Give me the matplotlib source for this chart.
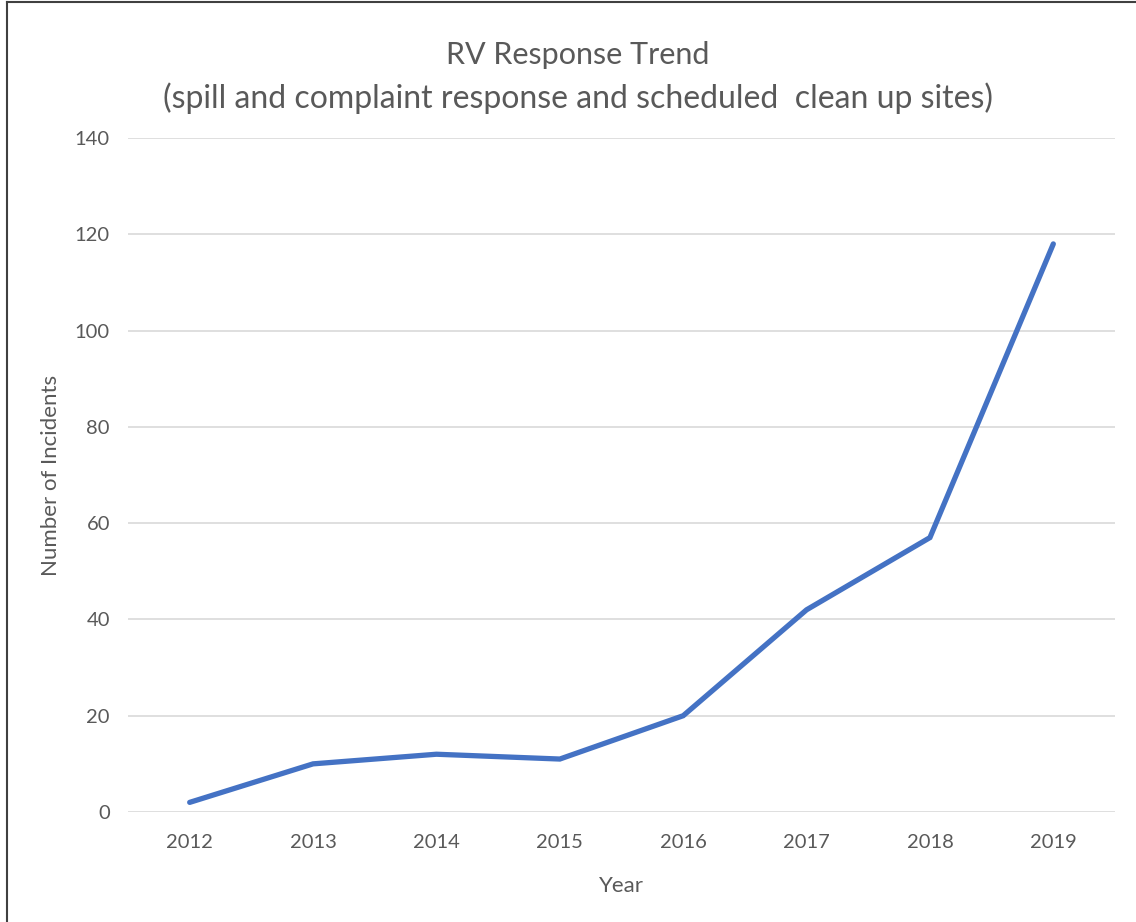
import matplotlib
matplotlib.use('Agg')
import matplotlib.pyplot as plt
from matplotlib.lines import Line2D

# chart data
years = ['2012', '2013', '2014', '2015', '2016', '2017', '2018', '2019']
incidents = [2, 10, 12, 11, 20, 42, 57, 118]
y_ticks = [0, 20, 40, 60, 80, 100, 120, 140]

plt.rcParams['font.family'] = ['Lato', 'DejaVu Sans']
text_grey = '#595959'

fig = plt.figure(figsize=(11.36, 9.22), dpi=100)
ax = fig.add_axes([128 / 1136, 110 / 922, 987 / 1136, 674 / 922])

x = list(range(len(years)))
ax.plot(x, incidents, color='#4472C4', linewidth=3.8, solid_capstyle='round',
        solid_joinstyle='miter', zorder=3)

ax.set_xlim(-0.5, len(years) - 0.5)
ax.set_ylim(0, 140)
ax.set_xticks(x)
ax.set_xticklabels(years)
ax.set_yticks(y_ticks)

# light horizontal gridlines only, no spines or tick marks
ax.grid(axis='y', color='#D9D9D9', linewidth=1.2)
ax.set_axisbelow(True)
for side in ax.spines.values():
    side.set_visible(False)
ax.tick_params(length=0, labelsize=14.5, labelcolor=text_grey)
ax.tick_params(axis='x', pad=16)
ax.tick_params(axis='y', pad=13)

ax.set_xlabel('Year', fontsize=16, color=text_grey, labelpad=18)
ax.set_ylabel('Number of Incidents', fontsize=16, color=text_grey, labelpad=10)

fig.text(578 / 1136, 1 - 55 / 922, 'RV Response Trend', ha='center', va='center',
         fontsize=22, color=text_grey)
fig.text(578 / 1136, 1 - 98 / 922,
         '(spill and complaint response and scheduled  clean up sites)',
         ha='center', va='center', fontsize=23, color=text_grey)

# cropped screenshot border on left and top
fig.add_artist(Line2D([6.5 / 1136, 6.5 / 1136], [0, 1 - 2 / 922],
                      transform=fig.transFigure, color='#404040', linewidth=1.5))
fig.add_artist(Line2D([6.5 / 1136, 1], [1 - 2 / 922, 1 - 2 / 922],
                      transform=fig.transFigure, color='#404040', linewidth=1.5))

fig.savefig('out.png', dpi=100)
